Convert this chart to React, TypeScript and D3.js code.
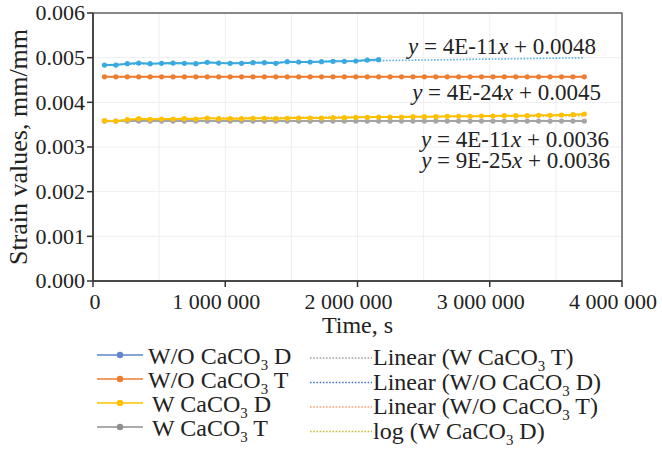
import * as d3 from "d3";

// time points (days of test) and strain readings
const days = [1, 2, 3, 4, 5, 6, 7, 8, 9, 10, 11, 12, 13, 14, 15, 16, 17, 18, 19, 20, 21, 22, 23, 24, 25, 26, 27, 28, 29, 30, 31, 32, 33, 34, 35, 36, 37, 38, 39, 40, 41, 42, 43];

const woD = [
  0.004835, 0.004835, 0.004866, 0.00488, 0.004866, 0.004873, 0.00488, 0.004873, 0.004866, 0.004895,
  0.00488, 0.004873, 0.004873, 0.004888, 0.004888, 0.004873, 0.00491, 0.004903, 0.004903, 0.00491,
  0.004918, 0.004918, 0.004925, 0.004947, 0.004955
];
const woT = [
  0.00457, 0.00457, 0.00457, 0.00457, 0.00457, 0.00457, 0.00457, 0.00457, 0.00457, 0.00457,
  0.00457, 0.00457, 0.00457, 0.00457, 0.00457, 0.00457, 0.00457, 0.00457, 0.00457, 0.00457,
  0.00457, 0.00457, 0.00457, 0.00457, 0.00457, 0.00457, 0.00457, 0.00457, 0.00457, 0.00457,
  0.00457, 0.00457, 0.00457, 0.00457, 0.00457, 0.00457, 0.00457, 0.00457, 0.00457, 0.00457,
  0.00457, 0.00457, 0.00457
];
const wD = [
  0.003589, 0.003582, 0.003612, 0.003634, 0.003619, 0.003627, 0.003627, 0.003634, 0.003627, 0.003649,
  0.003634, 0.003634, 0.003634, 0.003641, 0.003641, 0.003634, 0.003641, 0.003649, 0.003649, 0.003649,
  0.003656, 0.003656, 0.003664, 0.003664, 0.003671, 0.003671, 0.003671, 0.003679, 0.003679, 0.003679,
  0.003686, 0.003686, 0.003686, 0.003694, 0.003694, 0.003701, 0.003701, 0.003701, 0.003709, 0.003709,
  0.003716, 0.003724, 0.003739
];
const wT = [
  0.00358, 0.00358, 0.00358, 0.00358, 0.00358, 0.00358, 0.00358, 0.00358, 0.00358, 0.00358,
  0.00358, 0.00358, 0.00358, 0.00358, 0.00358, 0.00358, 0.00358, 0.00358, 0.00358, 0.00358,
  0.00358, 0.00358, 0.00358, 0.00358, 0.00358, 0.00358, 0.00358, 0.00358, 0.00358, 0.00358,
  0.00358, 0.00358, 0.00358, 0.00358, 0.00358, 0.00358, 0.00358, 0.00358, 0.00358, 0.00358,
  0.00358, 0.00358, 0.00358
];

const yTicks = [0, 0.001, 0.002, 0.003, 0.004, 0.005, 0.006];
const xTicks = [0, 1000000, 2000000, 3000000, 4000000];
const equations = [
  { a: "4E-11", b: "0.0048" },
  { a: "4E-24", b: "0.0045" },
  { a: "4E-11", b: "0.0036" },
  { a: "9E-25", b: "0.0036" }
];

const SEC_PER_DAY = 86400;
const W = 662;
const H = 450;
const plot = { left: 93, right: 622, top: 13, bottom: 281 };
const FONT = "Liberation Serif";
const txt = { fontFamily: `"${FONT}"` };

const x = d3.scaleLinear().domain([0, 4000000]).range([plot.left, plot.right]);
const y = d3.scaleLinear().domain([0, 0.006]).range([plot.bottom, plot.top]);

const locale = d3.formatLocale({ decimal: ".", thousands: " ", grouping: [3], currency: ["", ""] });
const fmtX = locale.format(",d");
const fmtY = d3.format(".3f");

type Pt = [number, number];
const toPts = (vals: number[]): Pt[] => vals.map((v, i) => [days[i] * SEC_PER_DAY, v]);

function linFit(pts: Pt[]) {
  const mx = d3.mean(pts, (p) => p[0])!;
  const my = d3.mean(pts, (p) => p[1])!;
  const num = d3.sum(pts, (p) => (p[0] - mx) * (p[1] - my));
  const den = d3.sum(pts, (p) => (p[0] - mx) ** 2);
  const k = num / den;
  return (t: number) => my + k * (t - mx);
}

function logFit(pts: Pt[]) {
  const lp = pts.map((p) => [Math.log(p[0]), p[1]] as Pt);
  const f = linFit(lp);
  return (t: number) => f(Math.log(t));
}

const series = [
  { key: "woD", label: ["W/O CaCO", " D"], color: "#3aa9e0", legend: "#5f86cb", pts: toPts(woD) },
  { key: "woT", label: ["W/O CaCO", " T"], color: "#ed7d31", legend: "#ed7d31", pts: toPts(woT) },
  { key: "wT", label: ["W CaCO", " T"], color: "#a5a5a5", legend: "#8f8f8f", pts: toPts(wT) },
  { key: "wD", label: ["W CaCO", " D"], color: "#ffc000", legend: "#ffc000", pts: toPts(wD) }
];
const legendOrder = ["woD", "woT", "wD", "wT"];

const lastT = days[days.length - 1] * SEC_PER_DAY;
const firstT = days[0] * SEC_PER_DAY;
const trends = [
  { label: ["Linear (W CaCO", " T)"], color: "#a8a8a8", legend: "#a0a0a0", f: linFit(toPts(wT)) },
  { label: ["Linear (W/O CaCO", " D)"], color: "#5ab4e6", legend: "#4472c4", f: linFit(toPts(woD)) },
  { label: ["Linear (W/O CaCO", " T)"], color: "#f4a070", legend: "#f4a070", f: linFit(toPts(woT)) },
  { label: ["log (W CaCO", " D)"], color: "#c8bb3a", legend: "#c8bb3a", f: logFit(toPts(wD)) }
];

const line = d3
  .line<Pt>()
  .x((p) => x(p[0]))
  .y((p) => y(p[1]));

function Sub({ parts, size }: { parts: string[]; size: number }) {
  return (
    <>
      {parts[0]}
      <tspan dy={6} fontSize={size * 0.62} style={txt}>
        3
      </tspan>
      <tspan dy={-6} style={txt}>
        {parts[1]}
      </tspan>
    </>
  );
}

export default function App() {
  const xGrid = d3.range(0, 4000001, 500000);
  const eqPos = [
    { x: 596, y: 54 },
    { x: 601, y: 100 },
    { x: 609, y: 147 },
    { x: 610, y: 168 }
  ];

  return (
    <svg
      width={W}
      height={H}
      viewBox={`0 0 ${W} ${H}`}
      style={{ position: "absolute", left: 0, top: 0, background: "#fff" }}
    >
      <style>{`text, tspan { font-family: "${FONT}" !important; }`}</style>
      {/* grid */}
      <g stroke="#efefef" strokeWidth={1}>
        {xGrid.map((t) => (
          <line key={t} x1={x(t)} x2={x(t)} y1={plot.top} y2={plot.bottom} />
        ))}
        {yTicks.map((t) => (
          <line key={t} x1={plot.left} x2={plot.right} y1={y(t)} y2={y(t)} />
        ))}
      </g>

      {/* trend lines */}
      {trends.map((tr, i) => {
        const n = 60;
        const pts: Pt[] = d3.range(n + 1).map((k) => {
          const t = firstT + ((lastT - firstT) * k) / n;
          return [t, tr.f(t)];
        });
        return (
          <path key={i} d={line(pts)!} fill="none" stroke={tr.color} strokeWidth={1.6} strokeDasharray="1.6 1.6" />
        );
      })}

      {/* series */}
      {series.map((s) => (
        <g key={s.key}>
          <path d={line(s.pts)!} fill="none" stroke={s.color} strokeWidth={2} />
          {s.pts.map((p, i) => (
            <circle key={i} cx={x(p[0])} cy={y(p[1])} r={2.6} fill={s.color} />
          ))}
        </g>
      ))}

      {/* frame and axes */}
      <rect
        x={plot.left}
        y={plot.top}
        width={plot.right - plot.left}
        height={plot.bottom - plot.top}
        fill="none"
        stroke="#5a5a5a"
        strokeWidth={1.4}
      />
      <g stroke="#333" strokeWidth={1.5}>
        <line x1={plot.left} x2={plot.left} y1={plot.top} y2={plot.bottom} />
        <line x1={plot.left} x2={plot.right} y1={plot.bottom} y2={plot.bottom} />
        {yTicks.map((t) => (
          <line key={t} x1={plot.left - 6} x2={plot.left} y1={y(t)} y2={y(t)} />
        ))}
        {xTicks.map((t) => (
          <line key={t} x1={x(t)} x2={x(t)} y1={plot.bottom} y2={plot.bottom + 6} />
        ))}
      </g>

      {yTicks.map((t) => (
        <text key={t} x={plot.left - 8} y={y(t)} dy="0.34em" textAnchor="end" fontSize={22} fill="#222" fontFamily={FONT} style={txt}>
          {fmtY(t)}
        </text>
      ))}
      {xTicks.map((t) => (
        <text
          key={t}
          x={x(t)}
          dx={t > 0 ? -9 : 2}
          y={plot.bottom + 28}
          textAnchor="middle"
          fontSize={22}
          fill="#222"
          fontFamily={FONT}
          style={txt}
        >
          {fmtX(t)}
        </text>
      ))}

      <text x={(plot.left + plot.right) / 2} y={333} fontSize={24} textAnchor="middle" fill="#222" fontFamily={FONT} style={txt}>
        Time, s
      </text>
      <text
        transform={`translate(27,${(plot.top + plot.bottom) / 2}) rotate(-90)`}
        fontSize={26}
        textAnchor="middle"
        fill="#222"
        fontFamily={FONT}
        style={txt}
      >
        Strain values, mm/mm
      </text>

      {/* trend equations */}
      {equations.map((e, i) => (
        <text key={i} x={eqPos[i].x} y={eqPos[i].y} fontSize={23} fill="#222" textAnchor="end" fontFamily={FONT} style={txt}>
          <tspan fontStyle="italic" style={txt}>
            y
          </tspan>{" "}
          = {e.a}
          <tspan fontStyle="italic" style={txt}>
            x
          </tspan>{" "}
          + {e.b}
        </text>
      ))}

      {/* legend */}
      {legendOrder.map((k, i) => {
        const s = series.find((d) => d.key === k)!;
        const ry = 355 + i * 24;
        return (
          <g key={k}>
            <line x1={97} x2={143} y1={ry} y2={ry} stroke={s.legend} strokeWidth={1.6} />
            <circle cx={120} cy={ry} r={3.2} fill={s.legend} />
            <text x={148 + (i > 1 ? 4 : 0)} y={ry + 9} fontSize={24} fill="#222" fontFamily={FONT} style={txt}>
              <Sub parts={s.label} size={24} />
            </text>
          </g>
        );
      })}
      {trends.map((tr, i) => {
        const ry = 358 + i * 24.5;
        return (
          <g key={i}>
            <line x1={310} x2={372} y1={ry} y2={ry} stroke={tr.legend} strokeWidth={1.6} strokeDasharray="1.6 1.6" />
            <text x={373} y={ry + 7} fontSize={24} fill="#222" fontFamily={FONT} style={txt}>
              <Sub parts={tr.label} size={24} />
            </text>
          </g>
        );
      })}
    </svg>
  );
}
